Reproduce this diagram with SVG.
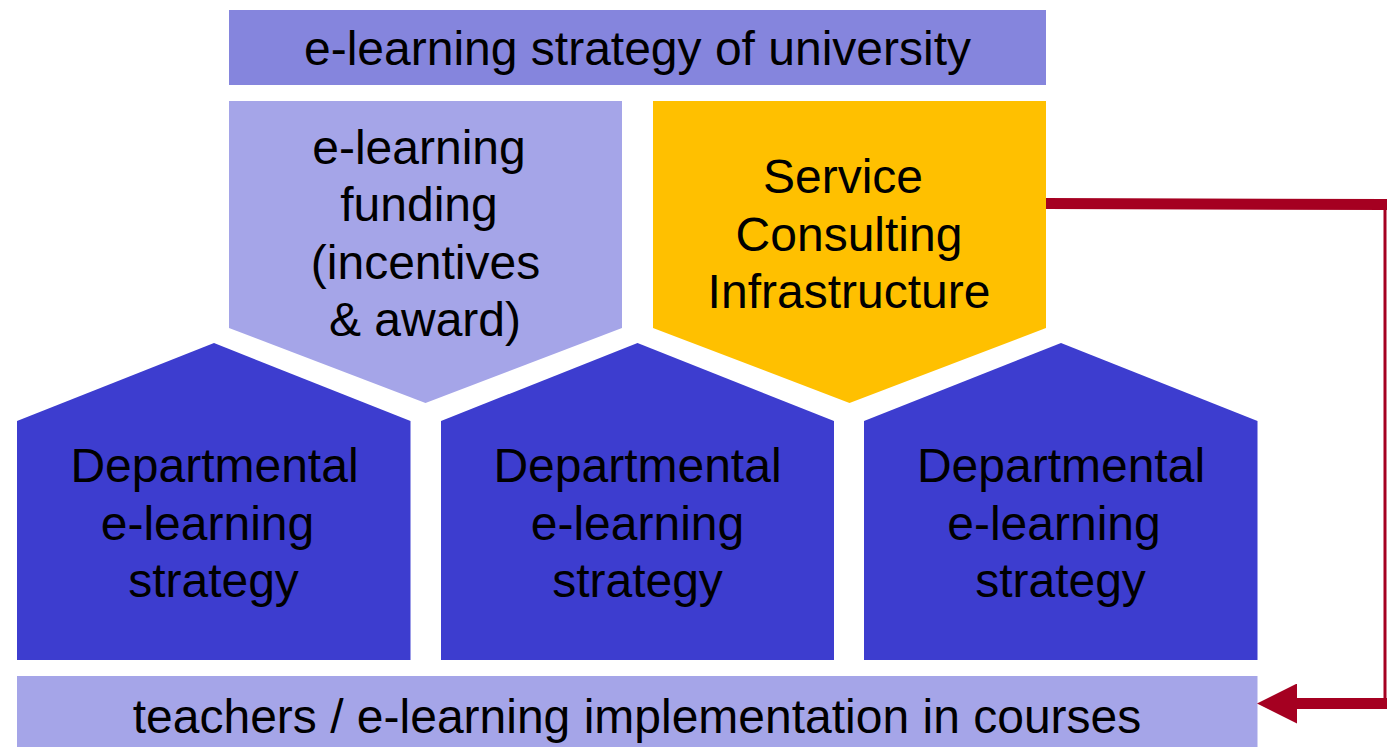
<svg xmlns="http://www.w3.org/2000/svg" width="1387" height="747" viewBox="0 0 1387 747">
<style>
text{font-family:"Liberation Sans",Arial,sans-serif;font-size:48px;fill:#000;text-anchor:middle}
.top{fill:#8585DD}
.light{fill:#A5A5E8}
.gold{fill:#FFC000}
.dept{fill:#3D3DCF}
.conn{fill:none;stroke:#A50021}
</style>
<defs>
<marker id="ah" markerUnits="userSpaceOnUse" markerWidth="40" markerHeight="40" viewBox="0 0 36 36" refX="0" refY="18" orient="auto">
<path d="M36,18 L0,0 L0,36 Z" fill="#A50021"/>
</marker>
</defs>
<g id="university-strategy">
<rect class="top" x="229" y="10" width="817" height="75"/>
<text x="637.5" y="65">e-learning strategy of university</text>
</g>
<g id="funding">
<polygon class="light" points="229,101 622,101 622,328 425.5,403 229,328"/>
<text x="419" y="163.5">e-learning</text>
<text x="419" y="221">funding</text>
<text x="425.5" y="278.5">(incentives</text>
<text x="425" y="336">&amp; award)</text>
</g>
<g id="service">
<polygon class="gold" points="653,101 1046,101 1046,328 849.5,403 653,328"/>
<text x="843" y="193">Service</text>
<text x="849" y="251">Consulting</text>
<text x="849" y="308">Infrastructure</text>
</g>
<g id="dept1">
<polygon class="dept" points="17,421 214,343 410.5,421 410.5,660 17,660"/>
<text x="214.5" y="482">Departmental</text>
<text x="207.5" y="539.5">e-learning</text>
<text x="213.5" y="597">strategy</text>
</g>
<g id="dept2">
<polygon class="dept" points="441,421 637.5,343 834,421 834,660 441,660"/>
<text x="637.5" y="482">Departmental</text>
<text x="637.5" y="539.5">e-learning</text>
<text x="637.5" y="597">strategy</text>
</g>
<g id="dept3">
<polygon class="dept" points="864,421 1061,343 1257.5,421 1257.5,660 864,660"/>
<text x="1061" y="482">Departmental</text>
<text x="1054" y="539.5">e-learning</text>
<text x="1060.5" y="597">strategy</text>
</g>
<g id="teachers">
<rect class="light" x="17" y="676" width="1240.5" height="71"/>
<text x="637" y="733">teachers / e-learning implementation in courses</text>
</g>
<g id="connectors">
<path class="conn" stroke-width="11" d="M1046,203.5 L1387,204.5"/>
<path class="conn" stroke-width="3" d="M1385,204 L1385,703.5"/>
<path class="conn" stroke-width="11" d="M1387,703.5 L1297,703.5" marker-end="url(#ah)"/>
</g>
</svg>
